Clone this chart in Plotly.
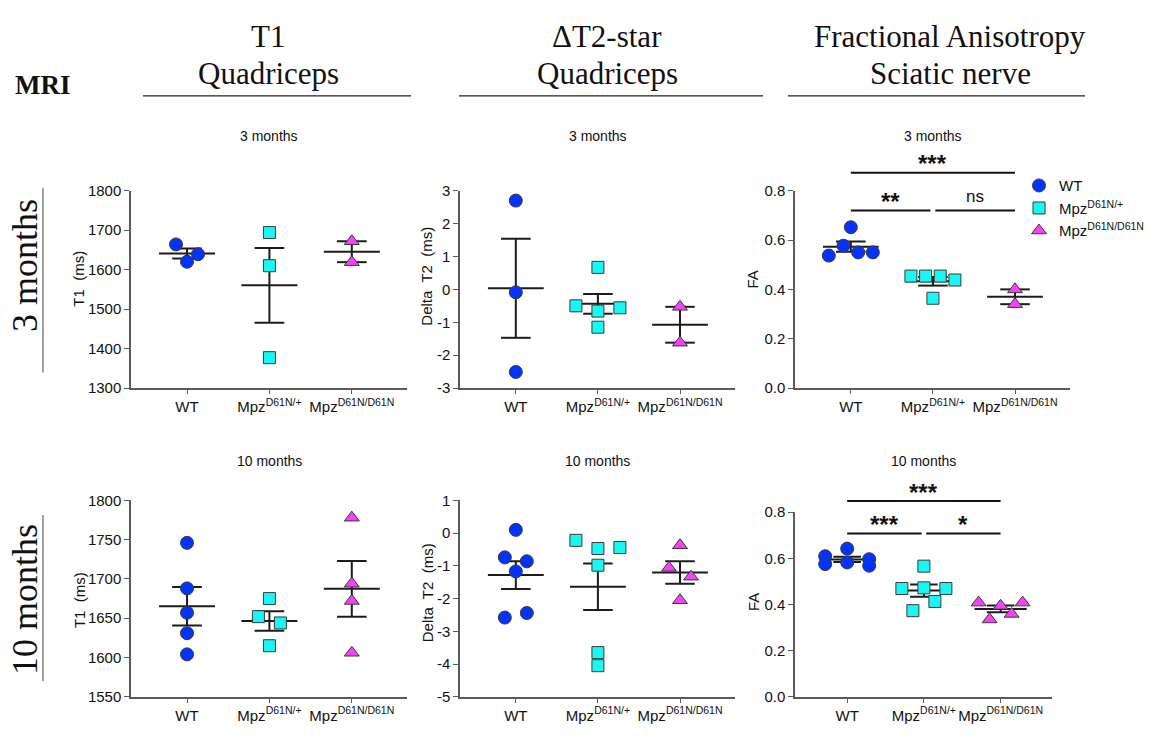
import numpy as np
import plotly.graph_objects as go

W, H = 1161, 738

# ---------------------------------------------------------------- data
groups = ["WT", "Mpz<sup>D61N/+</sup>", "Mpz<sup>D61N/D61N</sup>"]

# T1, quadriceps (ms)
t1_3m_wt = [1664, 1639, 1620]
t1_3m_het = [1694, 1610, 1377]
t1_3m_hom = [1672, 1619]
t1_10m_wt = [1746, 1688, 1657, 1631, 1604]
t1_10m_het = [1675, 1652, 1644, 1615]
t1_10m_hom = [1778, 1694, 1672, 1606]

# Delta T2-star, quadriceps (ms)
t2_3m_wt = [2.70, -0.09, -2.51]
t2_3m_het = [0.67, -0.50, -0.66, -0.56, -1.15]
t2_3m_hom = [-0.53, -1.62]
t2_10m_wt = [0.10, -0.74, -0.86, -1.17, -2.58, -2.44]
t2_10m_het = [-0.22, -0.47, -0.44, -0.98, -3.65, -4.05]
t2_10m_hom = [-0.37, -1.06, -1.33, -2.05]

# Fractional anisotropy, sciatic nerve
fa_3m_wt = [0.652, 0.537, 0.577, 0.550, 0.550]
fa_3m_het = [0.454, 0.454, 0.454, 0.438, 0.364]
fa_3m_hom = [0.400, 0.340]
fa_10m_wt = [0.609, 0.642, 0.596, 0.575, 0.582, 0.568]
fa_10m_het = [0.566, 0.469, 0.472, 0.469, 0.373, 0.413]
fa_10m_hom = [0.408, 0.394, 0.408, 0.335, 0.359]

# y-axis ticks
t1_3m_ticks = [1300, 1400, 1500, 1600, 1700, 1800]
t1_10m_ticks = [1550, 1600, 1650, 1700, 1750, 1800]
t2_3m_ticks = [-3, -2, -1, 0, 1, 2, 3]
t2_10m_ticks = [-5, -4, -3, -2, -1, 0, 1]
fa_ticks = [0.0, 0.2, 0.4, 0.6, 0.8]

# significance (group a, group b, label) for the FA panels
fa_3m_sig = [(0, 2, "***"), (0, 1, "**"), (1, 2, "ns")]
fa_10m_sig = [(0, 2, "***"), (0, 1, "***"), (1, 2, "*")]

# ---------------------------------------------------------------- styling
COLORS = ["#0433ff", "#19f7f5", "#f542f5"]
SYMBOLS = ["circle", "square", "triangle-up"]
SIZES = [13, 12, 13]
AX = "#5a5a5a"
SANS = "Liberation Sans, Arial, sans-serif"
SERIF = "Liberation Serif, Times New Roman, serif"
XR = (-0.68, 2.67)

# panel boxes in pixels: left, right, top, bottom; title offset above the box
panels = [
    dict(data=(t1_3m_wt, t1_3m_het, t1_3m_hom), ticks=t1_3m_ticks, fmt="{:g}",
         box=(131, 407, 186, 388), title="3 months", tgap=56,
         ytitle="T1\u00a0 (ms)", yt=(79, 276)),
    dict(data=(t2_3m_wt, t2_3m_het, t2_3m_hom), ticks=t2_3m_ticks, fmt="{:g}",
         box=(460, 735, 186, 388), title="3 months", tgap=56,
         ytitle="Delta\u00a0 T2\u00a0 (ms)", yt=(427, 274)),
    dict(data=(fa_3m_wt, fa_3m_het, fa_3m_hom), ticks=fa_ticks, fmt="{:.1f}",
         box=(795, 1070, 186, 388), title="3 months", tgap=56,
         ytitle="FA", yt=(753, 277), sig=fa_3m_sig, sig_levels=(0.873, 0.720)),
    dict(data=(t1_10m_wt, t1_10m_het, t1_10m_hom), ticks=t1_10m_ticks, fmt="{:g}",
         box=(131, 407, 503, 704), title="10 months", tgap=40,
         ytitle="T1\u00a0 (ms)", yt=(79, 605)),
    dict(data=(t2_10m_wt, t2_10m_het, t2_10m_hom), ticks=t2_10m_ticks, fmt="{:g}",
         box=(460, 735, 503, 704), title="10 months", tgap=40,
         ytitle="Delta\u00a0 T2\u00a0 (ms)", yt=(427, 598)),
    dict(data=(fa_10m_wt, fa_10m_het, fa_10m_hom), ticks=fa_ticks, fmt="{:.1f}",
         box=(795, 1052, 515, 704), title="10 months", tgap=52,
         ytitle="FA", yt=(753, 607), sig=fa_10m_sig, sig_levels=(0.848, 0.707)),
]


def swarm_offsets(vals, ppu_y, ppu_x, row_px=11.0, step_px=22.0, half_px=22.0):
    """Spread points that share a row (in screen pixels) symmetrically."""
    vals = np.asarray(vals, float)
    order = sorted(range(len(vals)), key=lambda i: -vals[i])
    rows = []
    for i in order:
        if rows and abs(vals[rows[-1][0]] - vals[i]) * ppu_y < row_px:
            rows[-1].append(i)
        else:
            rows.append([i])
    off = np.zeros(len(vals))
    for r in rows:
        r = sorted(r)
        n = len(r)
        if n == 1:
            continue
        step = min(step_px, 2 * half_px / (n - 1))
        for k, i in enumerate(r):
            off[i] = (k - (n - 1) / 2) * step / ppu_x
    return off


def note(text, xp, yp, size, family=SANS, angle=0, **kw):
    """text placed by pixel centre"""
    d = dict(text=text, x=xp / W, y=1 - yp / H, xref="paper", yref="paper",
             xanchor="center", yanchor="middle", showarrow=False, textangle=angle,
             font=dict(family=family, size=size, color="#111"))
    d.update(kw)
    return d


fig = go.Figure()
layout = dict(
    width=W, height=H, margin=dict(l=0, r=0, t=0, b=0),
    paper_bgcolor="white", plot_bgcolor="white",
    showlegend=True,
    legend=dict(x=1019 / W, y=1 - 164 / H, xanchor="left", yanchor="top",
                font=dict(family=SANS, size=15, color="#111"),
                bgcolor="rgba(0,0,0,0)", itemwidth=30, tracegroupgap=0),
    shapes=[], annotations=[],
)


def py(p, v):
    """pixel y of a data value in panel p"""
    x0, x1, y0, y1 = p["box"]
    r0, r1 = p["ticks"][0], p["ticks"][-1]
    return y1 - (v - r0) * (y1 - y0) / (r1 - r0)


def px(p, c):
    """pixel x of a category coordinate in panel p"""
    x0, x1, y0, y1 = p["box"]
    return x0 + (c - XR[0]) * (x1 - x0) / (XR[1] - XR[0])


for k, p in enumerate(panels, start=1):
    x0, x1, y0, y1 = p["box"]
    r0, r1 = p["ticks"][0], p["ticks"][-1]
    xs = "" if k == 1 else str(k)
    ppu_y = (y1 - y0) / (r1 - r0)
    ppu_x = (x1 - x0) / (XR[1] - XR[0])

    # mean and SEM bars
    lx, ly = [], []
    for g, vals in enumerate(p["data"]):
        v = np.asarray(vals, float)
        m = v.mean()
        s = v.std(ddof=1) / np.sqrt(len(v))
        lx += [g - 0.34, g + 0.34, None, g, g, None, g - 0.18, g + 0.18, None, g - 0.18, g + 0.18, None]
        ly += [m, m, None, m - s, m + s, None, m + s, m + s, None, m - s, m - s, None]
    fig.add_trace(go.Scatter(x=lx, y=ly, mode="lines", line=dict(color="#1c1c1c", width=2),
                             xaxis="x" + xs, yaxis="y" + xs, showlegend=False,
                             hoverinfo="skip", cliponaxis=False))

    # individual animals
    for g, vals in enumerate(p["data"]):
        off = swarm_offsets(vals, ppu_y, ppu_x)
        fig.add_trace(go.Scatter(
            x=g + off, y=vals, mode="markers", name=groups[g],
            marker=dict(symbol=SYMBOLS[g], size=SIZES[g], color=COLORS[g],
                        line=dict(color="#3a3a3a", width=1)),
            xaxis="x" + xs, yaxis="y" + xs, cliponaxis=False,
            showlegend=(k == 3), legendgroup=groups[g]))

    layout["xaxis" + xs] = dict(
        domain=[x0 / W, x1 / W], range=list(XR), anchor="y" + xs,
        showline=True, linecolor=AX, linewidth=1.5, ticks="outside", ticklen=4,
        tickcolor=AX, tickwidth=1.2, tickvals=[0, 1, 2], ticktext=groups,
        showgrid=False, zeroline=False, tickfont=dict(family=SANS, size=15, color="#111"))
    layout["yaxis" + xs] = dict(
        domain=[1 - y1 / H, 1 - y0 / H], range=[r0, r1], anchor="x" + xs,
        showline=True, linecolor=AX, linewidth=1.5, ticks="outside", ticklen=5,
        tickcolor=AX, tickwidth=1.2, tickvals=p["ticks"],
        ticktext=[p["fmt"].format(t) for t in p["ticks"]],
        showgrid=False, zeroline=False, tickfont=dict(family=SANS, size=15, color="#111"))

    # panel titles and y-axis titles
    layout["annotations"].append(note(p["title"], (x0 + x1) / 2, y0 - p["tgap"], 14))
    layout["annotations"].append(note(p["ytitle"], p["yt"][0], p["yt"][1], 15, angle=-90))

    # significance brackets
    if "sig" in p:
        top, low = p["sig_levels"]
        for a, b, lab in p["sig"]:
            lvl = top if (a, b) == (0, 2) else low
            xa = a + (0.03 if (a == 1) else 0)
            xb = b - (0.03 if (b == 1) else 0)
            yl = py(p, lvl)
            layout["shapes"].append(dict(
                type="line", xref="paper", yref="paper",
                x0=px(p, xa) / W, x1=px(p, xb) / W, y0=1 - yl / H, y1=1 - yl / H,
                line=dict(color="#111", width=2)))
            if lab == "ns":
                layout["annotations"].append(note(lab, px(p, (xa + xb) / 2), yl - 14, 17))
            else:
                layout["annotations"].append(note("<b>%s</b>" % lab, px(p, (xa + xb) / 2),
                                                  yl - 9, 24))

# column headers
headers = [("T1", "Quadriceps", 268, 143, 411),
           ("\u0394T2-star", "Quadriceps", 607, 459, 763),
           ("Fractional Anisotropy", "Sciatic nerve", 950, 788, 1085)]
for l1, l2, cx, lx0, lx1 in headers:
    layout["annotations"].append(note(l1, cx, 28, 31, family=SERIF))
    layout["annotations"].append(note(l2, cx, 66, 31, family=SERIF))
    layout["shapes"].append(dict(type="line", xref="paper", yref="paper",
                                 x0=lx0 / W, x1=lx1 / W, y0=1 - 89 / H, y1=1 - 89 / H,
                                 line=dict(color="#222", width=1.3)))

layout["annotations"].append(note("<b>MRI</b>", 43, 78, 27, family=SERIF))

# row labels with their rules
for txt, cy, ly0, ly1 in (("3 months", 263, 183, 372), ("10 months", 605, 518, 688)):
    layout["annotations"].append(note(txt, 25, cy, 36, family=SERIF, angle=-90))
    layout["shapes"].append(dict(type="line", xref="paper", yref="paper",
                                 x0=43 / W, x1=43 / W, y0=1 - ly0 / H, y1=1 - ly1 / H,
                                 line=dict(color="#444", width=1)))

fig.update_layout(**layout)
fig.write_html("out.html")
